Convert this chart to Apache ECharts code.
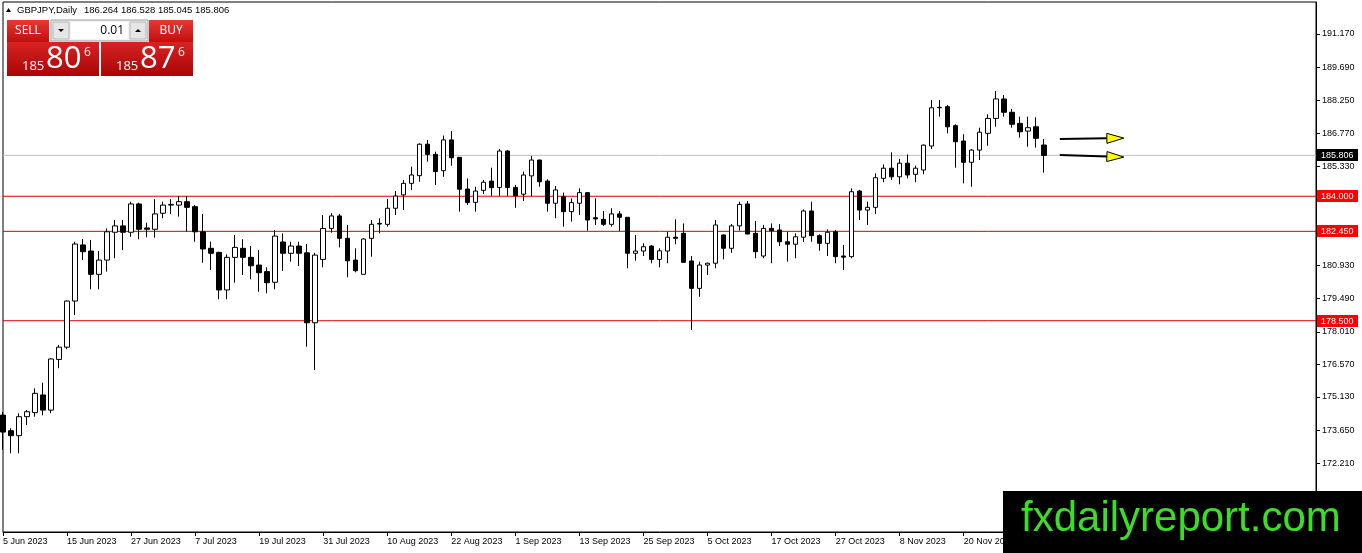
<!DOCTYPE html>
<html><head><meta charset="utf-8">
<script src="https://cdn.jsdelivr.net/npm/echarts@6/dist/echarts.min.js"></script>
<style>html,body{margin:0;padding:0;background:#fff}#c{width:1362px;height:553px}</style>
</head><body><div id="c"></div><script>
const symbolTitle = 'GBPJPY,Daily';
const ohlcHeader = ['186.264', '186.528', '185.045', '185.806'];
const opens = [174.33,173.64,173.42,174.26,174.44,175.22,174.55,176.79,177.33,179.37,
181.85,181.58,180.55,181.18,182.41,182.69,182.41,183.66,182.60,182.54,
183.25,183.61,183.61,183.76,183.54,182.43,181.70,181.52,179.86,181.30,
181.70,181.30,180.96,180.67,180.20,181.98,181.48,181.80,181.50,178.41,
181.21,182.58,183.13,182.14,181.18,180.55,182.14,182.80,182.76,183.47,
184.06,184.57,184.91,186.30,185.85,185.13,186.49,185.72,184.32,183.73,
184.26,184.67,184.39,186.00,184.39,184.09,184.90,185.60,184.67,183.69,
183.98,183.32,183.69,184.16,183.05,182.98,182.76,183.22,183.07,181.48,
181.58,181.80,181.21,181.58,182.19,182.36,181.14,179.93,180.96,181.04,
182.29,181.70,182.69,183.66,182.36,181.36,182.58,182.51,181.99,181.88,
182.19,183.35,182.26,181.92,182.43,181.36,181.33,184.23,183.39,183.51,
184.79,185.24,184.86,185.46,184.97,185.16,186.22,187.91,187.96,187.12,
186.44,185.50,186.04,186.78,187.44,188.30,187.71,187.22,186.88,187.07,186.264];
const highs = [174.47,173.75,174.41,174.55,175.51,175.76,176.84,177.43,179.40,181.99,
182.11,182.07,181.58,182.58,182.95,182.95,183.76,183.72,182.83,183.87,
183.76,183.87,184.01,184.01,183.61,183.22,181.99,181.55,181.43,182.29,
182.10,181.80,181.62,180.86,182.51,182.36,181.99,181.99,181.89,181.50,
183.17,183.25,183.22,182.73,181.70,182.14,182.95,183.03,183.88,184.23,
184.72,185.31,186.34,186.49,185.97,186.68,186.88,185.72,184.79,184.42,
184.72,185.26,186.09,186.04,184.50,185.09,185.78,185.62,184.75,184.45,
184.16,183.91,184.35,184.18,183.91,183.35,183.47,183.35,183.07,182.29,
181.92,181.85,181.70,182.43,182.98,182.80,181.36,181.11,181.07,182.95,
182.31,182.77,183.76,183.79,182.91,182.73,182.80,182.77,182.43,182.36,
183.42,183.76,182.32,182.54,182.51,181.85,184.35,184.28,183.76,185.01,
185.41,185.94,185.65,185.85,185.35,186.29,188.25,188.25,188.03,187.18,
186.74,186.09,187.03,187.62,188.65,188.47,187.86,187.52,187.52,187.49,186.528];
const lows = [172.79,172.64,172.64,173.89,174.26,174.32,174.41,176.40,177.24,178.75,
181.18,179.89,179.89,180.67,181.26,181.62,182.21,182.10,182.19,182.17,
183.03,183.22,183.10,182.43,181.99,181.06,180.74,179.45,179.45,180.18,
180.52,180.33,179.78,179.71,179.89,180.70,181.11,180.92,177.35,176.32,
180.86,182.39,181.74,180.42,180.64,180.55,181.33,182.36,182.66,183.17,
183.39,184.28,184.64,185.53,184.50,184.86,185.35,183.32,183.61,183.32,
184.10,184.02,184.02,184.02,183.49,183.79,184.01,184.42,183.32,183.03,
182.66,182.88,183.17,182.48,182.73,182.69,182.66,182.46,180.82,181.15,
181.36,181.04,180.86,181.04,181.88,181.06,178.09,179.56,180.52,180.82,
181.21,181.50,182.48,182.32,181.26,181.26,181.04,181.80,181.11,181.26,
181.98,181.99,181.59,181.36,181.04,180.74,181.26,182.95,182.73,183.22,
184.62,184.72,184.53,184.79,184.62,184.97,186.09,187.52,186.78,185.26,
184.57,184.42,185.60,186.23,187.07,187.52,187.03,186.59,186.19,186.15,185.045];
const closes = [173.58,173.42,174.26,174.48,175.29,174.55,176.81,177.33,179.37,181.89,
181.55,180.55,181.18,182.43,182.69,182.41,183.66,182.54,182.54,183.22,
183.61,183.64,183.76,183.51,182.43,181.67,181.48,179.86,181.30,181.74,
181.30,180.93,180.62,180.18,182.24,181.48,181.80,181.48,178.41,181.40,
182.58,183.13,182.14,181.15,180.71,182.11,182.76,182.77,183.47,184.01,
184.57,184.94,186.30,185.85,185.09,186.49,185.70,184.31,183.72,184.23,
184.62,184.38,186.00,184.39,184.02,184.94,185.60,184.64,183.69,184.28,
183.32,183.72,184.16,182.95,183.00,182.76,183.22,183.07,181.48,181.58,
181.77,181.21,181.59,182.19,182.14,181.08,179.93,180.96,181.04,182.73,
181.70,182.69,183.64,182.33,181.55,182.58,182.48,181.99,181.88,182.21,
183.35,182.26,181.92,182.41,181.33,181.31,184.20,183.39,183.51,184.82,
185.24,184.86,185.46,184.94,185.24,186.26,187.91,187.93,187.07,186.41,
185.50,186.04,186.83,187.44,188.30,187.71,187.18,186.85,187.03,186.56,185.806];
const tickLabels = ['5 Jun 2023','15 Jun 2023','27 Jun 2023','7 Jul 2023','19 Jul 2023','31 Jul 2023',
'10 Aug 2023','22 Aug 2023','1 Sep 2023','13 Sep 2023','25 Sep 2023','5 Oct 2023','17 Oct 2023',
'27 Oct 2023','8 Nov 2023','20 Nov 2023','30 Nov 2023'];
const yTickValues = [172.21,173.65,175.13,176.57,178.01,179.49,180.93,182.45,183.89,185.33,186.77,188.25,189.69,191.17];
const levels = [184.0, 182.45, 178.5];
const currentPrice = 185.806;
const barsTotal = 165;
// arrow annotations: [startIndex, startPrice, endIndex, endPrice]
const arrows = [[132.0, 186.53, 139.65, 186.57], [132.0, 185.82, 139.9, 185.73]];

const FONT = '"Liberation Sans", Arial, sans-serif';
const categories = [];
let d = new Date(Date.UTC(2023, 5, 5));
while (categories.length < barsTotal) {
  const wd = d.getUTCDay();
  if (wd !== 0 && wd !== 6) categories.push(d.toISOString().slice(0, 10));
  d = new Date(d.getTime() + 86400000);
}
const candleData = opens.map((o, i) => [o, closes[i], lows[i], highs[i]]);
const showTick = (i) => i % 8 === 0 && i / 8 < tickLabels.length;
const lvlLabel = (bg, v) => ({ show: true, position: 'insideEndTop', formatter: () => v.toFixed(3), backgroundColor: bg, color: '#fff',
  padding: [2, 4, 1, 4], fontSize: 9, fontFamily: FONT });
const lvlColor = '#d80000';
// level lines spanning the whole category range
const levelSeries = levels.map(v => ({
  type: 'line', data: [[0, v], [barsTotal - 1, v]], symbol: 'none', silent: true, clip: false,
  lineStyle: { color: lvlColor, width: 1 }, z: 1
})).concat([{
  type: 'line', data: [[0, currentPrice], [barsTotal - 1, currentPrice]], symbol: 'none', silent: true, clip: false,
  lineStyle: { color: '#c0c0c0', width: 1 }, z: 1
}]);

const chart = echarts.init(document.getElementById('c'));
chart.setOption({
  animation: false,
  backgroundColor: '#fff',
  grid: { left: 3, right: 46, top: 2, bottom: 21, show: true, borderColor: '#000', borderWidth: 1, backgroundColor: '#fff' },
  xAxis: {
    type: 'category', data: categories, boundaryGap: false,
    axisLine: { onZero: false, lineStyle: { color: '#000', width: 1 } },
    axisTick: { interval: showTick, length: 4, lineStyle: { color: '#000' } },
    axisLabel: { interval: showTick, formatter: (v, i) => tickLabels[i / 8] || '', align: 'left', margin: 5,
      color: '#000', fontSize: 9, fontFamily: FONT, hideOverlap: false },
    splitLine: { show: false }
  },
  yAxis: {
    type: 'value', position: 'right', min: 169.164, max: 192.584,
    axisLine: { show: true, onZero: false, lineStyle: { color: '#000' } },
    axisTick: { show: true, customValues: yTickValues, length: 4, lineStyle: { color: '#000' } },
    axisLabel: { customValues: yTickValues, formatter: (v) => v.toFixed(3), margin: 6, color: '#000', fontSize: 9, fontFamily: FONT },
    splitLine: { show: false }
  },
  series: levelSeries.concat([{
    type: 'candlestick', data: candleData, barWidth: 5, clip: true, z: 3,
    itemStyle: { color: '#fff', color0: '#000', borderColor: '#000', borderColor0: '#000', borderWidth: 1 }
  }])
});

const redG = { type: 'linear', x: 0, y: 0, x2: 0, y2: 1, colorStops: [{ offset: 0, color: '#e63a33' }, { offset: 1, color: '#c20e0e' }] };
const redD = () => ({ type: 'linear', x: 0, y: 0, x2: 0, y2: 1, colorStops: [{ offset: 0, color: '#d92323' }, { offset: 1, color: '#a80505' }] });
const W = '"Open Sans", "Noto Sans", sans-serif';
const g = [
  { type: 'polygon', shape: { points: [[6, 12], [11, 12], [8.5, 8]] }, style: { fill: '#000' }, z: 100 },
  { type: 'text', x: 17, y: 10, style: { text: symbolTitle, font: '9.5px ' + FONT, fill: '#000', verticalAlign: 'middle' }, z: 100 },
  { type: 'text', x: 84, y: 10, style: { text: ohlcHeader.join(' '), font: '9.5px ' + FONT, fill: '#000', verticalAlign: 'middle' }, z: 100 },
  { type: 'rect', shape: { x: 7, y: 20, width: 42, height: 22 }, style: { fill: redG }, z: 100 },
  { type: 'text', x: 28, y: 31, style: { text: 'SELL', font: '12px ' + W, fill: '#fff', align: 'center', verticalAlign: 'middle' }, z: 101 },
  { type: 'rect', shape: { x: 51, y: 20, width: 97, height: 21 }, style: { fill: '#f2f2f2', stroke: '#9a9a9a', lineWidth: 1 }, z: 100 },
  { type: 'rect', shape: { x: 53, y: 22, width: 16, height: 17 }, style: { fill: '#e6e6e6', stroke: '#b5b5b5', lineWidth: 1 }, z: 101 },
  { type: 'polygon', shape: { points: [[58, 29], [64, 29], [61, 32]] }, style: { fill: '#000' }, z: 102 },
  { type: 'rect', shape: { x: 71, y: 22, width: 57, height: 17 }, style: { fill: '#fff' }, z: 101 },
  { type: 'text', x: 124, y: 31, style: { text: '0.01', font: '12px ' + W, fill: '#000', align: 'right', verticalAlign: 'middle' }, z: 102 },
  { type: 'rect', shape: { x: 130, y: 22, width: 16, height: 17 }, style: { fill: '#e6e6e6', stroke: '#b5b5b5', lineWidth: 1 }, z: 101 },
  { type: 'polygon', shape: { points: [[135, 32], [141, 32], [138, 29]] }, style: { fill: '#000' }, z: 102 },
  { type: 'rect', shape: { x: 149, y: 20, width: 44, height: 22 }, style: { fill: redG }, z: 100 },
  { type: 'text', x: 171, y: 31, style: { text: 'BUY', font: '12px ' + W, fill: '#fff', align: 'center', verticalAlign: 'middle' }, z: 101 },
  { type: 'rect', shape: { x: 7, y: 42, width: 92, height: 34 }, style: { fill: redD() }, z: 100 },
  { type: 'rect', shape: { x: 101, y: 42, width: 92, height: 34 }, style: { fill: redD() }, z: 100 },
  { type: 'text', x: 22, y: 66, style: { text: '185', font: '13px ' + W, fill: '#fff', verticalAlign: 'middle' }, z: 101 },
  { type: 'text', x: 46, y: 59, style: { text: '80', font: '31px ' + W, fill: '#fff', verticalAlign: 'middle' }, z: 101 },
  { type: 'text', x: 84, y: 53, style: { text: '6', font: '12px ' + W, fill: '#fff', verticalAlign: 'middle' }, z: 101 },
  { type: 'text', x: 116, y: 66, style: { text: '185', font: '13px ' + W, fill: '#fff', verticalAlign: 'middle' }, z: 101 },
  { type: 'text', x: 140, y: 59, style: { text: '87', font: '31px ' + W, fill: '#fff', verticalAlign: 'middle' }, z: 101 },
  { type: 'text', x: 178, y: 53, style: { text: '6', font: '12px ' + W, fill: '#fff', verticalAlign: 'middle' }, z: 101 },
  { type: 'rect', shape: { x: 1003, y: 491, width: 359, height: 62 }, style: { fill: '#000' }, z: 100 },
  { type: 'text', x: 1021, y: 519, style: { text: 'fxdailyreport.com', font: '42px ' + FONT, fill: '#3cdc28', verticalAlign: 'middle' }, z: 101 }
];
// price labels on the right axis for the level lines and the current price
levels.forEach(v => {
  const p = chart.convertToPixel({ gridIndex: 0 }, [barsTotal - 1, v]);
  g.push({ type: 'rect', shape: { x: p[0] + 1, y: Math.round(p[1]) - 6, width: 41, height: 12 }, style: { fill: '#ff0000' }, z: 95 });
  g.push({ type: 'text', x: p[0] + 5, y: Math.round(p[1]) + 0.5, style: { text: v.toFixed(3), font: '9px ' + FONT, fill: '#fff', verticalAlign: 'middle' }, z: 96 });
});
{
  const p = chart.convertToPixel({ gridIndex: 0 }, [barsTotal - 1, currentPrice]);
  g.push({ type: 'rect', shape: { x: p[0] + 1, y: Math.round(p[1]) - 6, width: 41, height: 12 }, style: { fill: '#000' }, z: 95 });
  g.push({ type: 'text', x: p[0] + 5, y: Math.round(p[1]) + 0.5, style: { text: currentPrice.toFixed(3), font: '9px ' + FONT, fill: '#fff', verticalAlign: 'middle' }, z: 96 });
}
arrows.forEach(a => {
  const p0 = chart.convertToPixel({ gridIndex: 0 }, [a[0], a[1]]);
  const p1 = chart.convertToPixel({ gridIndex: 0 }, [a[2], a[3]]);
  const dx = p1[0] - p0[0], dy = p1[1] - p0[1];
  const len = Math.sqrt(dx * dx + dy * dy), ux = dx / len, uy = dy / len;
  const hl = 17, hw = 5;
  const bx = p1[0] - ux * hl, by = p1[1] - uy * hl;
  g.push({ type: 'line', shape: { x1: p0[0], y1: p0[1], x2: bx, y2: by }, style: { stroke: '#000', lineWidth: 2 }, z: 90 });
  g.push({ type: 'polygon', shape: { points: [[p1[0], p1[1]], [bx - uy * hw, by + ux * hw], [bx + uy * hw, by - ux * hw]] },
    style: { fill: '#ffff00', stroke: '#000', lineWidth: 1 }, z: 91 });
});
chart.setOption({ graphic: g });
</script></body></html>
